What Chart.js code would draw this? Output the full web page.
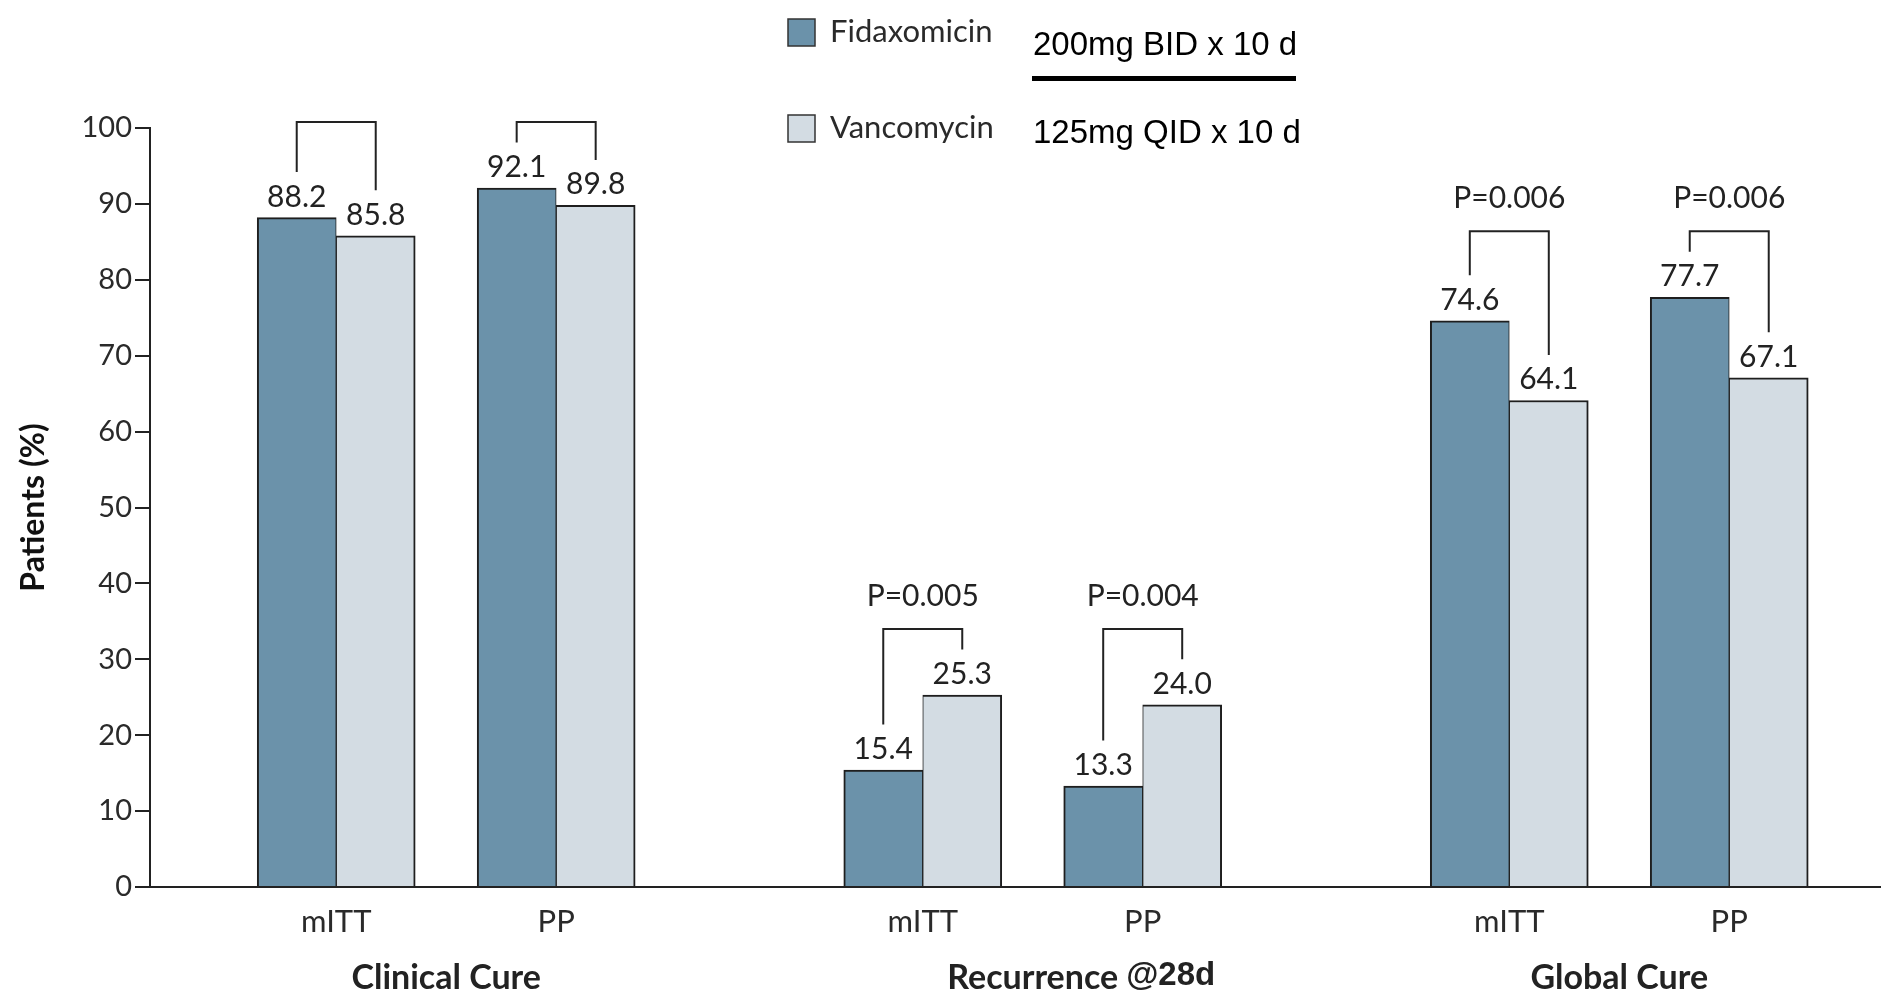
<!DOCTYPE html>
<html>
<head>
<meta charset="utf-8">
<title>Fidaxomicin vs Vancomycin</title>
<script src="https://cdn.jsdelivr.net/npm/chart.js@4.4.1/dist/chart.umd.min.js"></script>
<style>
  html, body { margin: 0; padding: 0; background: #ffffff; }
  #wrap { position: relative; width: 1881px; height: 996px; }
  canvas { display: block; }
</style>
</head>
<body>
<div id="wrap"><canvas id="chart" width="1881" height="996"></canvas></div>
<script>
// ---- data ----
const groups = ['Clinical Cure', 'Recurrence @28d', 'Global Cure'];
const subsets = ['mITT', 'PP'];
const fidaxomicin = [88.2, 92.1, 15.4, 13.3, 74.6, 77.7];
const vancomycin = [85.8, 89.8, 25.3, 24.0, 64.1, 67.1];
const pValues = ['', '', 'P=0.005', 'P=0.004', 'P=0.006', 'P=0.006'];
const yTicks = [0, 10, 20, 30, 40, 50, 60, 70, 80, 90, 100];
const seriesNames = ['Fidaxomicin', 'Vancomycin'];
const doses = ['200mg BID x 10 d', '125mg QID x 10 d'];

// ---- layout constants ----
const SUBSET_STEP = 3;   // slots between mITT and PP inside a group
const GROUP_STEP = 8;    // slots between group starts
const X_MIN = -2.54;
const X_MAX = 21.07;
const LEG_GAP = 6;       // bracket leg ends this far above the bar value
const BRACKET_GAP = 8.7; // bracket top above the highest bar in its group

const FID_COLOR = '#6b92aa';
const VAN_COLOR = '#d3dce3';
const INK = '#222222';
const FONT = 'Lato, "Open Sans", sans-serif';
const ARIAL = '"Liberation Sans", Arial, sans-serif';

// slot position for each bar pair
const slots = fidaxomicin.map((_, i) => Math.floor(i / subsets.length) * GROUP_STEP + (i % subsets.length) * SUBSET_STEP);

const annotate = {
  id: 'annotate',
  afterDatasetsDraw(chart) {
    const ctx = chart.ctx;
    const y = chart.scales.y;
    const x = chart.scales.x;
    const m0 = chart.getDatasetMeta(0);
    const m1 = chart.getDatasetMeta(1);
    ctx.save();
    ctx.fillStyle = INK;
    ctx.strokeStyle = INK;
    ctx.lineWidth = 2;

    // value labels above bars
    ctx.font = '30px ' + FONT;
    ctx.textAlign = 'center';
    ctx.textBaseline = 'alphabetic';
    [m0, m1].forEach(meta => {
      meta.data.forEach((bar, i) => {
        const v = chart.data.datasets[meta.index].data[i].y;
        ctx.fillText(v.toFixed(1), bar.x, bar.y - 11);
      });
    });

    // comparison brackets and P values
    fidaxomicin.forEach((fv, i) => {
      const g = Math.floor(i / subsets.length);
      const members = [0, 1].map(s => g * subsets.length + s);
      const groupMax = Math.max(...members.map(k => Math.max(fidaxomicin[k], vancomycin[k])));
      const topPx = y.getPixelForValue(groupMax + BRACKET_GAP);
      const fx = m0.data[i].x;
      const vx = m1.data[i].x;
      ctx.beginPath();
      ctx.moveTo(fx, y.getPixelForValue(fv + LEG_GAP));
      ctx.lineTo(fx, topPx);
      ctx.lineTo(vx, topPx);
      ctx.lineTo(vx, y.getPixelForValue(vancomycin[i] + LEG_GAP));
      ctx.stroke();
      if (pValues[i]) {
        ctx.font = '30px ' + FONT;
        ctx.fillText(pValues[i], (fx + vx) / 2, topPx - 23);
      }
    });

    // group captions under the axis
    const captionY = chart.chartArea.bottom + 102;
    groups.forEach((name, g) => {
      const a = x.getPixelForValue(slots[g * subsets.length]);
      const b = x.getPixelForValue(slots[g * subsets.length + 1]);
      const cx = (a + b) / 2;
      const at = name.indexOf('@');
      const main = at >= 0 ? name.slice(0, at).trim() : name;
      const suffix = at >= 0 ? name.slice(at) : '';
      ctx.font = 'bold 34px ' + FONT;
      ctx.textAlign = 'center';
      ctx.fillText(main, cx, captionY);
      if (suffix) {
        const w = ctx.measureText(main).width;
        ctx.font = 'bold 33px ' + ARIAL;
        ctx.textAlign = 'left';
        ctx.fillText(suffix, cx + w / 2 + 8, captionY - 4);
      }
    });

    // legend with dosing
    const colors = [FID_COLOR, VAN_COLOR];
    const rowBase = [42, 138];
    seriesNames.forEach((name, k) => {
      ctx.fillStyle = colors[k];
      ctx.fillRect(788, rowBase[k] - 23, 27, 27);
      ctx.lineWidth = 1.5;
      ctx.strokeStyle = '#333333';
      ctx.strokeRect(788, rowBase[k] - 23, 27, 27);
      ctx.fillStyle = '#2a2a2a';
      ctx.font = '31px ' + FONT;
      ctx.textAlign = 'left';
      ctx.fillText(name, 830, rowBase[k]);
      ctx.fillStyle = '#000000';
      ctx.font = '33px ' + ARIAL;
      ctx.fillText(doses[k], 1033, rowBase[k] + (k === 0 ? 13 : 5));
    });
    ctx.fillStyle = '#000000';
    ctx.fillRect(1032, 76, 264, 5);
    ctx.restore();
  }
};

new Chart(document.getElementById('chart'), {
  type: 'bar',
  data: {
    datasets: [
      {
        label: seriesNames[0],
        data: fidaxomicin.map((v, i) => ({ x: slots[i], y: v })),
        backgroundColor: FID_COLOR,
        borderColor: '#1e1e1e',
        borderWidth: { top: 2, left: 2, right: 1, bottom: 0 },
        borderSkipped: false,
        barThickness: 79
      },
      {
        label: seriesNames[1],
        data: vancomycin.map((v, i) => ({ x: slots[i], y: v })),
        backgroundColor: VAN_COLOR,
        borderColor: '#1e1e1e',
        borderWidth: { top: 2, left: 1, right: 2, bottom: 0 },
        borderSkipped: false,
        barThickness: 79
      }
    ]
  },
  options: {
    responsive: false,
    animation: false,
    layout: { padding: { top: 128, right: 0, bottom: 0, left: 0 } },
    plugins: {
      legend: { display: false },
      tooltip: { enabled: false }
    },
    scales: {
      x: {
        type: 'linear',
        min: X_MIN,
        max: X_MAX,
        offset: false,
        grid: { display: false },
        border: { display: true, color: INK, width: 2 },
        afterBuildTicks: scale => { scale.ticks = slots.map(v => ({ value: v })); },
        afterFit: scale => { scale.height = 109; },
        ticks: {
          autoSkip: false,
          maxRotation: 0,
          padding: 8,
          color: '#2a2a2a',
          font: { family: FONT, size: 31 },
          callback: (value, index) => subsets[index % subsets.length]
        }
      },
      y: {
        min: 0,
        max: 100,
        afterBuildTicks: scale => { scale.ticks = yTicks.map(v => ({ value: v })); },
        afterFit: scale => { scale.width = 150; },
        grid: {
          display: true,
          drawOnChartArea: false,
          drawTicks: true,
          tickLength: 15,
          color: INK,
          lineWidth: 2
        },
        border: { display: true, color: INK, width: 2 },
        ticks: {
          padding: 3,
          color: '#2a2a2a',
          font: { family: FONT, size: 29 }
        },
        title: {
          display: true,
          text: 'Patients (%)',
          color: '#111111',
          padding: { top: 14, bottom: 0 },
          font: { family: FONT, size: 32, weight: 'bold' }
        }
      }
    }
  },
  plugins: [annotate]
});
</script>
</body>
</html>
